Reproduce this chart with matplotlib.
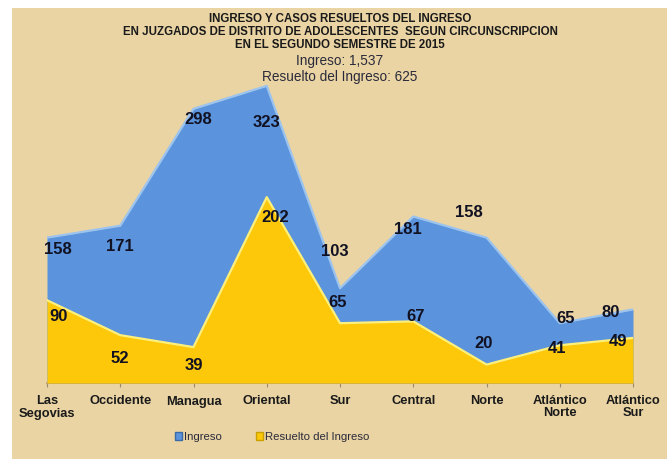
import matplotlib
matplotlib.use("Agg")
import matplotlib.pyplot as plt
import matplotlib.patches as mpatches
import numpy as np

plt.rcParams['font.family'] = ['Liberation Sans', 'DejaVu Sans']

categories = ["Las\nSegovias", "Occidente", "Managua", "Oriental", "Sur",
              "Central", "Norte", "Atlántico\nNorte", "Atlántico\nSur"]
ingreso = [158, 171, 298, 323, 103, 181, 158, 65, 80]
resuelto = [90, 52, 39, 202, 65, 67, 20, 41, 49]

title_lines = ["INGRESO Y CASOS RESUELTOS DEL INGRESO",
               "EN JUZGADOS DE DISTRITO DE ADOLESCENTES  SEGUN CIRCUNSCRIPCION",
               "EN EL SEGUNDO SEMESTRE DE 2015"]
sub1 = "Ingreso: 1,537"
sub2 = "Resuelto del Ingreso: 625"

# label offsets in pixels (dx, dy)
off_ing = [(11, -12), (0, -21), (5, -11), (0, -37), (-5, 37), (-5, -13), (-18, 25), (6, 5), (-22, -3)]
off_res = [(12, -16), (0, -23), (0, -18), (8, -20), (-2, 21), (2, 5), (-3, 21), (-3, -3), (-15, -4)]

W, H = 667, 459
fig = plt.figure(figsize=(W / 100, H / 100), dpi=100)
fig.patch.set_facecolor('white')

# parchment background
bg = fig.add_axes([12 / W, 0, 1 - 12 / W, 1 - 8 / H])
bg.set_facecolor('#ead4a4')
bg.set_xticks([]); bg.set_yticks([])
for s in bg.spines.values():
    s.set_visible(False)
bg.set_zorder(-10)

x0, x1 = 47, 633
ytop, ybot = 61, 383
ax = fig.add_axes([x0 / W, 1 - ybot / H, (x1 - x0) / W, (ybot - ytop) / H])
ax.patch.set_alpha(0)
x = np.arange(len(categories))
ax.set_xlim(0, len(categories) - 1)
ax.set_ylim(0, 350)

blue = '#5b94dc'
yellow = '#fdc80a'
ax.fill_between(x, ingreso, 0, color=blue, zorder=2, linewidth=0)
ax.plot(x, ingreso, color='#9cc4ee', lw=1.6, zorder=2.5)
ax.fill_between(x, resuelto, 0, color=yellow, zorder=3, linewidth=0)
ax.plot(x, resuelto, color='#fff07a', lw=1.6, zorder=3.5)

for i in range(len(categories)):
    ax.annotate(str(ingreso[i]), (x[i], ingreso[i]), xytext=off_ing[i],
                textcoords='offset pixels', ha='center', va='center',
                fontsize=12, fontweight='bold', color='#111122', zorder=5)
    ax.annotate(str(resuelto[i]), (x[i], resuelto[i]), xytext=off_res[i],
                textcoords='offset pixels', ha='center', va='center',
                fontsize=12, fontweight='bold', color='#111122', zorder=5)

for s in ['top', 'right', 'left']:
    ax.spines[s].set_visible(False)
ax.spines['bottom'].set_color('#b89a60')
ax.spines['bottom'].set_linewidth(1.2)
ax.set_yticks([])
ax.set_xticks(x)
ax.set_xticklabels(categories, fontsize=9.3, fontweight='bold', color='#1a1a1a',
                   linespacing=1.0, va='top')
ax.tick_params(axis='x', length=3, color='#9a8a70', pad=6)

# titles
fy = lambda py: 1 - py / H
for py, t in zip([19, 32, 45], title_lines):
    fig.text(340 / W, fy(py), t, ha='center', va='center', fontsize=8.3,
             fontweight='bold', color='#1a1a1a')
fig.text(340 / W, fy(61), sub1, ha='center', va='center', fontsize=9.8, color='#2a2a3a')
fig.text(340 / W, fy(77), sub2, ha='center', va='center', fontsize=9.8, color='#2a2a3a')

# legend
handles = [mpatches.Patch(facecolor=blue, edgecolor='#3a6aa8', label='Ingreso'),
           mpatches.Patch(facecolor=yellow, edgecolor='#c8a000', label='Resuelto del Ingreso')]
leg = fig.legend(handles=handles, loc='center', bbox_to_anchor=(272 / W, fy(437)), ncol=2,
                 frameon=False, fontsize=8.2, handlelength=0.6, handleheight=0.7,
                 handletextpad=0.2, columnspacing=3.0)
for t in leg.get_texts():
    t.set_color('#2a2a3a')

fig.savefig('out.png', dpi=100, facecolor=fig.get_facecolor())
